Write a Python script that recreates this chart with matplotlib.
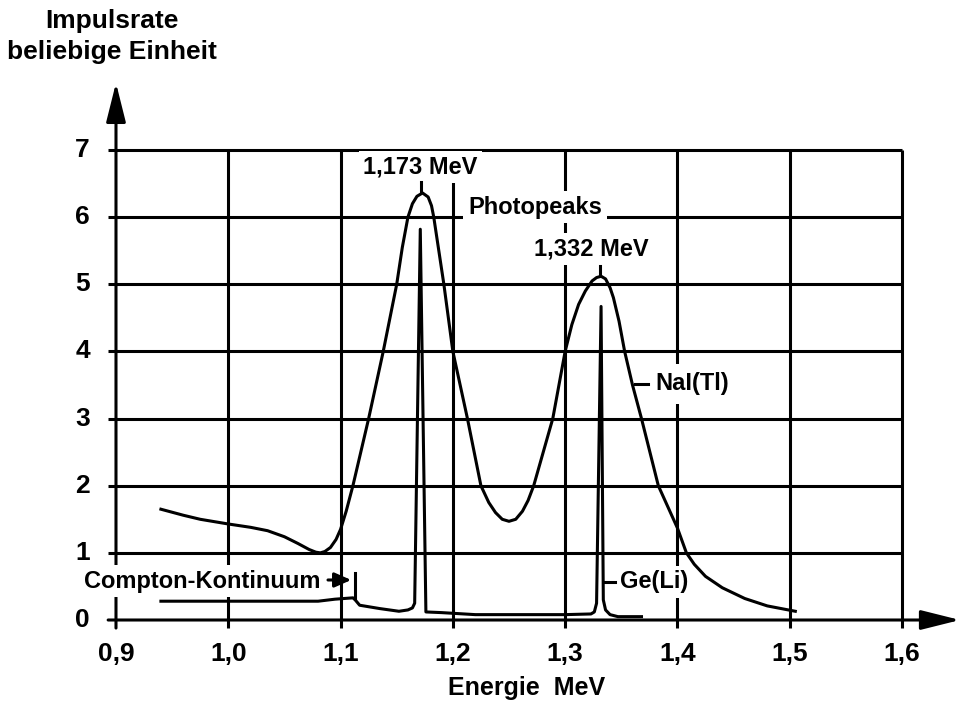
import matplotlib
matplotlib.use("Agg")
import matplotlib.pyplot as plt

plt.rcParams['font.family'] = ['Liberation Sans', 'DejaVu Sans']
plt.rcParams['font.weight'] = 'bold'

# x ticks (energy, MeV) and y ticks (count rate)
x_ticks = [0.9, 1.0, 1.1, 1.2, 1.3, 1.4, 1.5, 1.6]
x_labels = ["0,9", "1,0", "1,1", "1,2", "1,3", "1,4", "1,5", "1,6"]
y_ticks = [0, 1, 2, 3, 4, 5, 6, 7]

# NaI(Tl) spectrum
nai_x = [0.940, 0.960, 0.975, 1.000, 1.020, 1.035, 1.050, 1.062, 1.072, 1.078,
         1.082, 1.086, 1.091, 1.096, 1.100, 1.105, 1.111, 1.125, 1.138, 1.150,
         1.155, 1.160, 1.164, 1.168, 1.173, 1.178, 1.181, 1.183, 1.192, 1.200,
         1.213, 1.225, 1.232, 1.238, 1.244, 1.250, 1.256, 1.262, 1.267, 1.272,
         1.289, 1.300, 1.306, 1.312, 1.318, 1.324, 1.328, 1.332, 1.336, 1.340,
         1.343, 1.348, 1.353, 1.360, 1.368, 1.383, 1.400, 1.408, 1.415, 1.425,
         1.440, 1.460, 1.480, 1.505]
nai_y = [1.65, 1.56, 1.50, 1.43, 1.38, 1.33, 1.24, 1.14, 1.05, 1.01,
         1.00, 1.02, 1.08, 1.20, 1.35, 1.62, 2.00, 3.00, 4.00, 5.00,
         5.55, 6.00, 6.20, 6.31, 6.36, 6.30, 6.17, 6.00, 5.00, 4.00,
         3.00, 2.00, 1.75, 1.60, 1.50, 1.47, 1.50, 1.62, 1.78, 2.00,
         3.00, 4.00, 4.40, 4.70, 4.90, 5.05, 5.10, 5.12, 5.08, 4.95,
         4.80, 4.45, 4.00, 3.50, 3.00, 2.00, 1.37, 1.00, 0.83, 0.65,
         0.48, 0.32, 0.21, 0.13]

# Ge(Li) spectrum
ge_x = [0.940, 1.000, 1.050, 1.080, 1.095, 1.111, 1.113, 1.117, 1.135, 1.152,
        1.160, 1.164, 1.166, 1.171, 1.176, 1.190, 1.220, 1.300, 1.323, 1.326,
        1.328, 1.332, 1.334, 1.336, 1.340, 1.347, 1.368]
ge_y = [0.28, 0.28, 0.28, 0.28, 0.31, 0.33, 0.30, 0.22, 0.17, 0.13,
        0.15, 0.18, 0.25, 5.82, 0.12, 0.11, 0.08, 0.08, 0.09, 0.12,
        0.25, 4.67, 0.30, 0.15, 0.08, 0.05, 0.05]

# Compton edge marker
edge_x = 1.1125
edge_y = [0.33, 0.70]

fig = plt.figure(figsize=(9.56, 7.23), dpi=100)
ax = fig.add_axes([0, 0, 1, 1])
ax.set_xlim(0.7967, 1.6481)
ax.set_ylim(-1.534, 9.234)
ax.axis('off')

lw = 2.2
fs = 17     # annotations
fs_ax = 19  # tick labels and axis titles

# grid
for yv in y_ticks[1:]:
    ax.plot([0.893, 1.6], [yv, yv], color='k', lw=lw, solid_capstyle='butt', zorder=1)
for xv in x_ticks[1:]:
    ax.plot([xv, xv], [-0.12, 7], color='k', lw=lw, solid_capstyle='butt', zorder=1)

# axes with arrows
arrow = dict(arrowstyle='-|>,head_length=1.2,head_width=0.3', color='k', lw=lw,
             mutation_scale=20, shrinkA=0, shrinkB=0)
ax.annotate('', xy=(0.9, 8.0), xytext=(0.9, -0.12), arrowprops=arrow,
            annotation_clip=False, zorder=2)
ax.annotate('', xy=(1.6517, 0), xytext=(0.893, 0), arrowprops=arrow,
            annotation_clip=False, zorder=2)

# tick labels
for xv, lab in zip(x_ticks, x_labels):
    ax.text(xv, -0.506, lab, ha='center', va='center', fontsize=fs_ax, fontweight='bold')
for yv in y_ticks:
    ax.text(0.8768, yv, str(yv), ha='right', va='center', fontsize=fs_ax, fontweight='bold')

ax.text(1.266, -1.013, "Energie  MeV", ha='center', va='center', fontsize=18, fontweight='bold')
ax.text(0.8964, 8.92, "Impulsrate", ha='center', va='center', fontsize=fs_ax, fontweight='bold')
ax.text(0.8964, 8.46, "beliebige Einheit", ha='center', va='center', fontsize=fs_ax, fontweight='bold')

# spectra
ax.plot(nai_x, nai_y, color='k', lw=lw, zorder=5, solid_joinstyle='round')
ax.plot(ge_x, ge_y, color='k', lw=lw, zorder=5)
ax.plot([edge_x, edge_x], edge_y, color='k', lw=lw, zorder=5)

# labels
box = dict(boxstyle='square,pad=0.2', fc='white', ec='none')
ax.text(1.1712, 6.747, "1,173 MeV", ha='center', va='center', fontsize=fs,
        fontweight='bold', bbox=box, zorder=4)
ax.plot([1.172, 1.172], [6.37, 6.52], color='k', lw=lw, zorder=4)
ax.text(1.2731, 6.15, "Photopeaks", ha='center', va='center', fontsize=fs,
        fontweight='bold', bbox=box, zorder=4)
ax.text(1.323, 5.526, "1,332 MeV", ha='center', va='center', fontsize=fs,
        fontweight='bold', bbox=box, zorder=4)
ax.plot([1.331, 1.331], [5.13, 5.27], color='k', lw=lw, zorder=4)
ax.text(1.380, 3.515, "NaI(Tl)", ha='left', va='center', fontsize=fs,
        fontweight='bold', bbox=dict(boxstyle='square,pad=0.35', fc='white', ec='none'),
        zorder=4)
ax.plot([1.362, 1.374], [3.515, 3.515], color='k', lw=lw, zorder=5)
ax.text(1.3488, 0.566, "Ge(Li)", ha='left', va='center', fontsize=fs,
        fontweight='bold', bbox=box, zorder=4)
ax.plot([1.3355, 1.344], [0.566, 0.566], color='k', lw=lw, zorder=5)
ax.text(1.0817, 0.58, "Compton-Kontinuum", ha='right', va='center', fontsize=fs,
        fontweight='bold', bbox=box, zorder=4)
ax.annotate('', xy=(1.1095, 0.596), xytext=(1.0888, 0.596),
            arrowprops=dict(arrowstyle='-|>,head_length=0.5,head_width=0.22', color='k',
                            lw=lw, mutation_scale=20, shrinkA=0, shrinkB=0), zorder=5)

fig.savefig("out.png", dpi=100)
